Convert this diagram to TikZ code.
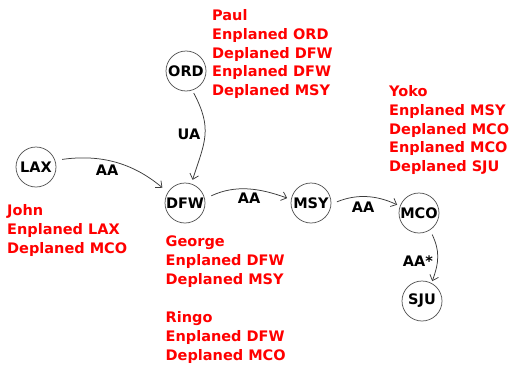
\documentclass[tikz,border=0pt]{standalone}
\usepackage{fontspec}
\setmainfont{DejaVu Sans}
\usetikzlibrary{arrows.meta}
\definecolor{lblred}{RGB}{255,0,0}
\definecolor{ringgray}{RGB}{90,90,90}
\definecolor{edgegray}{RGB}{60,60,60}
\begin{document}
\begin{tikzpicture}[x=1pt,y=-1pt,
  airport/.style={circle,draw=ringgray,line width=0.75pt,minimum size=40pt,inner sep=0pt,font=\fontsize{14.5}{17}\selectfont\bfseries},
  flight/.style={draw=edgegray,line width=0.75pt,-{Straight Barb[length=5pt,width=9pt]}},
  elabel/.style={font=\fontsize{14.5}{17}\selectfont\bfseries,inner sep=0pt},
  pax/.style={text=lblred,align=left,anchor=north west,inner sep=0pt,font=\fontsize{14.5}{18.9}\selectfont\bfseries}]
\useasboundingbox (0,0) rectangle (513,364);
\fill[white] (0,0) rectangle (513,364);
% airports
\node[airport] (LAX) at (36,167) {LAX};
\node[airport] (ORD) at (186,71) {ORD};
\node[airport] (DFW) at (185,203) {DFW};
\node[airport] (MSY) at (311,203) {MSY};
\node[airport] (MCO) at (419,213) {MCO};
\node[airport] (SJU) at (422,301) {SJU};
% flights
\draw[flight,shorten <=7pt,shorten >=7pt] (LAX.19) to[out=8,in=140] (DFW.148);
\draw[flight,shorten <=3pt,shorten >=4pt] (ORD.-72) to[out=-62,in=72,looseness=1.2] (DFW.72);
\draw[flight,shorten <=7pt,shorten >=4pt] (DFW.12) to[out=25,in=160] (MSY.170);
\draw[flight,shorten <=6pt,shorten >=3pt] (MSY.-3) to[out=22,in=155] (MCO.160);
\draw[flight,shorten <=5pt,shorten >=2pt] (MCO.-57) to[out=-65,in=70,looseness=1.1] (SJU.62);
% edge labels
\node[elabel] (aa1) at (107,170) {AA};
\node[elabel] (ua) at (189,134) {UA};
\node[elabel] (aa2) at (249,198) {AA};
\node[elabel] (aa3) at (363,207) {AA};
\node[elabel] (aa4) at (418,261) {AA*};
% passengers
\node[pax] (paul) at (212,9) {Paul\\Enplaned ORD\\Deplaned DFW\\Enplaned DFW\\Deplaned MSY};
\node[pax] (john) at (7,204) {John\\Enplaned LAX\\Deplaned MCO};
\node[pax] (george) at (165.5,235.5) {George\\Enplaned DFW\\Deplaned MSY};
\node[pax] (ringo) at (165.5,311.5) {Ringo\\Enplaned DFW\\Deplaned MCO};
\node[pax] (yoko) at (389,85) {Yoko\\Enplaned MSY\\Deplaned MCO\\Enplaned MCO\\Deplaned SJU};
\end{tikzpicture}
\end{document}
